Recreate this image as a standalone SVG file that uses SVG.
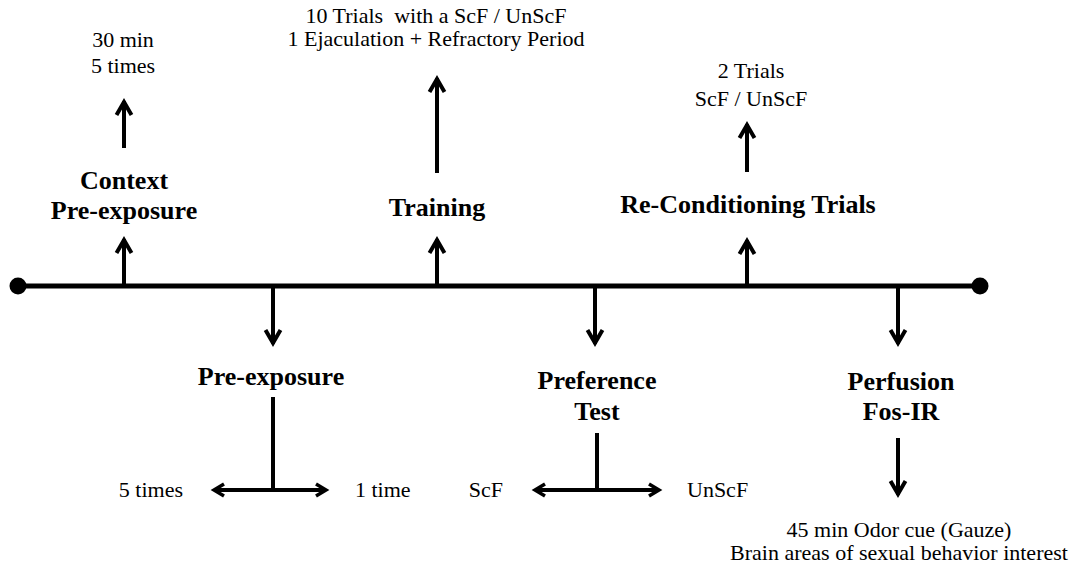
<svg xmlns="http://www.w3.org/2000/svg" width="1077" height="571" viewBox="0 0 1077 571">
<style>
.t{font-family:"Liberation Serif","Times New Roman",serif;font-size:22px;fill:#000;text-anchor:middle}
.b{font-family:"Liberation Serif","Times New Roman",serif;font-size:26px;font-weight:bold;fill:#000;text-anchor:middle}
.l{stroke:#000;stroke-width:4;fill:none}
.h{stroke:#000;stroke-width:4;fill:none;stroke-linejoin:miter;stroke-miterlimit:10}
.hs{stroke:#000;stroke-width:3.5;fill:none;stroke-linejoin:miter;stroke-miterlimit:10}
</style>
<rect width="1077" height="571" fill="#fff"/>
<g id="connectors">
  <line x1="18" y1="286" x2="980" y2="286" stroke="#000" stroke-width="5"/>
  <circle cx="18" cy="286" r="8.5" fill="#000"/>
  <circle cx="980" cy="286" r="8.5" fill="#000"/>
  <!-- Context up arrows -->
  <line class="l" x1="124" y1="286" x2="124" y2="239"/>
  <polyline class="h" points="116.5,253 124,240 131.5,253"/>
  <line class="l" x1="124" y1="148" x2="124" y2="101"/>
  <polyline class="h" points="116.5,115 124,102 131.5,115"/>
  <!-- Training -->
  <line class="l" x1="437" y1="286" x2="437" y2="239"/>
  <polyline class="h" points="429.5,253 437,240 444.5,253"/>
  <line class="l" x1="437" y1="173" x2="437" y2="78"/>
  <polyline class="h" points="429.5,92 437,79 444.5,92"/>
  <!-- Re-Conditioning -->
  <line class="l" x1="747" y1="286" x2="747" y2="240"/>
  <polyline class="h" points="739.5,254 747,241 754.5,254"/>
  <line class="l" x1="747" y1="172" x2="747" y2="124"/>
  <polyline class="h" points="739.5,138 747,125 754.5,138"/>
  <!-- Pre-exposure down -->
  <line class="l" x1="273" y1="286" x2="273" y2="344"/>
  <polyline class="h" points="265.5,330 273,343 280.5,330"/>
  <line class="l" x1="273" y1="397" x2="273" y2="490"/>
  <line class="l" x1="214" y1="490" x2="326" y2="490"/>
  <polyline class="hs" points="224,484 214,490 224,496"/>
  <polyline class="hs" points="316,484 326,490 316,496"/>
  <!-- Preference down -->
  <line class="l" x1="595" y1="286" x2="595" y2="344"/>
  <polyline class="h" points="587.5,330 595,343 602.5,330"/>
  <line class="l" x1="597" y1="433" x2="597" y2="490"/>
  <line class="l" x1="535" y1="490" x2="659" y2="490"/>
  <polyline class="hs" points="545,484 535,490 545,496"/>
  <polyline class="hs" points="649,484 659,490 649,496"/>
  <!-- Perfusion down -->
  <line class="l" x1="898" y1="286" x2="898" y2="344"/>
  <polyline class="h" points="890.5,330 898,343 905.5,330"/>
  <line class="l" x1="898" y1="438" x2="898" y2="495"/>
  <polyline class="h" points="890.5,481 898,494 905.5,481"/>
</g>
<g id="context-pre-exposure">
  <text class="t" x="123" y="47">30 min</text>
  <text class="t" x="123" y="73">5 times</text>
  <text class="b" x="124" y="189">Context</text>
  <text class="b" x="124" y="219">Pre-exposure</text>
</g>
<g id="training">
  <text class="t" x="436" y="23" style="white-space:pre">10 Trials  with a ScF / UnScF</text>
  <text class="t" x="436" y="46">1 Ejaculation + Refractory Period</text>
  <text class="b" x="437" y="216">Training</text>
</g>
<g id="re-conditioning">
  <text class="t" x="751" y="78">2 Trials</text>
  <text class="t" x="751" y="106">ScF / UnScF</text>
  <text class="b" x="748" y="213">Re-Conditioning Trials</text>
</g>
<g id="pre-exposure">
  <text class="b" x="271" y="385">Pre-exposure</text>
  <text class="t" x="183" y="497" style="text-anchor:end">5 times</text>
  <text class="t" x="355" y="497" style="text-anchor:start">1 time</text>
</g>
<g id="preference-test">
  <text class="b" x="597" y="389">Preference</text>
  <text class="b" x="597" y="420">Test</text>
  <text class="t" x="503" y="497" style="text-anchor:end">ScF</text>
  <text class="t" x="687" y="497" style="text-anchor:start">UnScF</text>
</g>
<g id="perfusion">
  <text class="b" x="901" y="390">Perfusion</text>
  <text class="b" x="901" y="420">Fos-IR</text>
  <text class="t" x="899" y="537">45 min Odor cue (Gauze)</text>
  <text class="t" x="899" y="560">Brain areas of sexual behavior interest</text>
</g>
</svg>
